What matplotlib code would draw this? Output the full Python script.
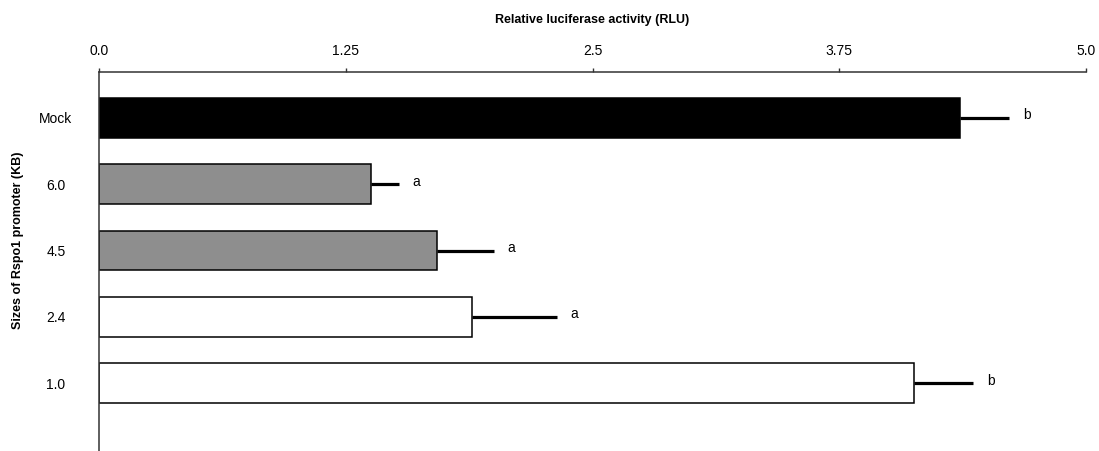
import matplotlib
matplotlib.use("Agg")
import matplotlib.pyplot as plt
import numpy as np

plt.rcParams["font.family"] = ["Liberation Sans", "DejaVu Sans"]

# ---- Data ----------------------------------------------------------------
categories = ["Mock", "6.0", "4.5", "2.4", "1.0"]
rlu = [4.36, 1.38, 1.71, 1.89, 4.13]
rlu_err = [0.25, 0.14, 0.29, 0.43, 0.30]
letters = ["b", "a", "a", "a", "b"]
bar_colors = ["#000000", "#8e8e8e", "#8e8e8e", "#ffffff", "#ffffff"]
xticks = [0.0, 1.25, 2.5, 3.75, 5.0]
xtick_labels = ["0.0", "1.25", "2.5", "3.75", "5.0"]

# ---- Figure --------------------------------------------------------------
W, H = 1099, 451
fig = plt.figure(figsize=(W / 100, H / 100), dpi=100)
ax = fig.add_axes([99 / W, 0.0, (1086 - 99) / W, 1 - 72 / H])

ypos = np.arange(len(categories))
ax.barh(ypos, rlu, height=0.6, color=bar_colors, edgecolor="black",
        linewidth=1.1, zorder=2)
ax.errorbar(rlu, ypos, xerr=[np.zeros(len(rlu)), rlu_err], fmt="none",
            ecolor="black", elinewidth=2.3, capsize=0, zorder=3)

for y, v, e, lab in zip(ypos, rlu, rlu_err, letters):
    ax.text(v + e + 0.07, y - 0.04, lab, ha="left", va="center", fontsize=10)

ax.set_xlim(0, 5.0)
ax.set_ylim(5.02, -0.69)

ax.xaxis.tick_top()
ax.set_xticks(xticks)
ax.set_xticklabels(xtick_labels, fontsize=10)
ax.tick_params(axis="x", direction="out", length=3, width=1.0, pad=7,
               color="#333333")

ax.set_yticks(ypos)
ax.set_yticklabels(categories, fontsize=10, ha="center")
ax.tick_params(axis="y", length=0, pad=31)

for side in ("right", "bottom"):
    ax.spines[side].set_visible(False)
for side in ("top", "left"):
    ax.spines[side].set_linewidth(1.1)
    ax.spines[side].set_color("#333333")

fig.text(592 / W, 1 - 20 / H, "Relative luciferase activity (RLU)",
         ha="center", va="center", fontsize=9, fontweight="bold")
fig.text(18 / W, 1 - 240 / H, "Sizes of Rspo1 promoter (KB)",
         ha="center", va="center", rotation=90, fontsize=9,
         fontweight="bold")

fig.savefig("out.png", dpi=100)
